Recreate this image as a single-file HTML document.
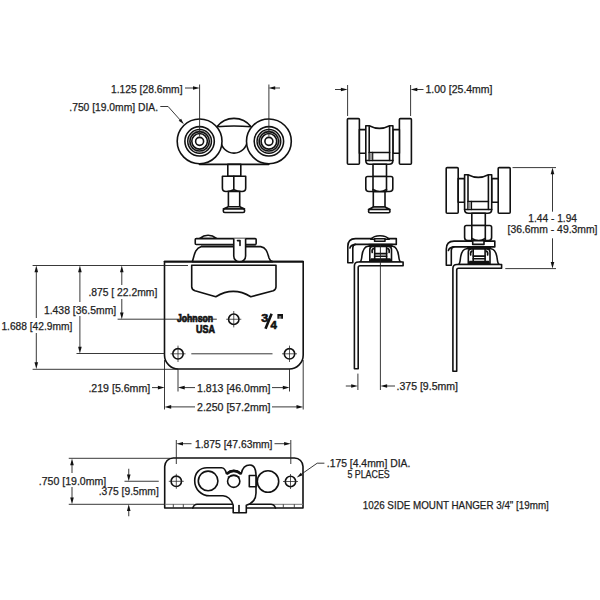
<!DOCTYPE html>
<html><head><meta charset="utf-8">
<style>
html,body{margin:0;padding:0;background:#fff;width:600px;height:600px;overflow:hidden}
svg{display:block}
text{font-family:"Liberation Sans",sans-serif;font-size:10.4px;fill:#1e1e1e;stroke:#1e1e1e;stroke-width:0.25}
.o{fill:none;stroke:#111;stroke-width:1.6;stroke-linejoin:round;stroke-linecap:round}
.w{fill:#fff;stroke:#111;stroke-width:1.6;stroke-linejoin:round}
.d{fill:none;stroke:#222;stroke-width:0.9}
.a{fill:#111;stroke:none}
.x{fill:none;stroke:#222;stroke-width:0.75}
</style></head>
<body>
<svg width="600" height="600" viewBox="0 0 600 600">
<!-- ===== VIEW 1: front rollers ===== -->
<g id="v1">
  <path class="w" d="M216.9,126.8 A21.6,21.6 0 0 1 251.1,126.8 Q234,125.3 216.9,126.8 Z"/>
  <path class="o" d="M220.7,139.8 A13.3,13.3 0 0 0 247.3,139.8"/>
  <line class="o" x1="199.5" y1="164.4" x2="268.8" y2="164.4"/>
  <g id="wheel">
    <circle class="w" cx="199.6" cy="141.35" r="22.4" stroke-width="1.5"/>
    <circle class="o" cx="199.6" cy="141.35" r="14.7" stroke-width="1.4"/>
    <circle class="o" cx="199.6" cy="141.35" r="11.8" stroke-width="1.1"/>
    <circle fill="none" stroke="#999" stroke-width="1" cx="199.6" cy="141.35" r="10.75"/>
    <circle class="o" cx="199.6" cy="141.35" r="9.7" stroke-width="1.1"/>
    <circle class="o" cx="199.6" cy="141.35" r="7.8" stroke-width="2.1"/>
    <circle class="o" cx="199.6" cy="141.35" r="4.0" stroke-width="1.4"/>
  </g>
  <g transform="translate(69.3,0)">
    <circle class="w" cx="199.6" cy="141.35" r="22.4" stroke-width="1.5"/>
    <circle class="o" cx="199.6" cy="141.35" r="14.7" stroke-width="1.4"/>
    <circle class="o" cx="199.6" cy="141.35" r="11.8" stroke-width="1.1"/>
    <circle fill="none" stroke="#999" stroke-width="1" cx="199.6" cy="141.35" r="10.75"/>
    <circle class="o" cx="199.6" cy="141.35" r="9.7" stroke-width="1.1"/>
    <circle class="o" cx="199.6" cy="141.35" r="7.8" stroke-width="2.1"/>
    <circle class="o" cx="199.6" cy="141.35" r="4.0" stroke-width="1.4"/>
  </g>
  <rect class="w" x="227.8" y="164.4" width="13" height="11.9"/>
  <path class="w" d="M222.4,176.3 H245.7 V188 Q245.7,191.5 242,191.5 Q237,191.5 233.8,189.8 Q230.6,191.5 226,191.5 Q222.4,191.5 222.4,188 Z"/>
  <line class="o" x1="233.8" y1="176.3" x2="233.8" y2="190"/>
  <rect class="w" x="228.4" y="191.5" width="11.3" height="15.2"/>
  <path class="w" d="M228.4,206.7 H239.7 L244.6,209 H223.3 Z"/>
  <rect class="w" x="223.3" y="209" width="21.3" height="3.5" rx="1.5"/>
  <!-- dims -->
  <line class="d" x1="199.6" y1="84.5" x2="199.6" y2="136.5"/>
  <line class="d" x1="268.9" y1="84.5" x2="268.9" y2="136.5"/>
  <line class="d" x1="185" y1="88" x2="194" y2="88"/>
  <path class="a" d="M199.7,88 L193,86.2 V89.8 Z"/>
  <line class="d" x1="280" y1="88" x2="274" y2="88"/>
  <path class="a" d="M268.5,88 L275.2,86.2 V89.8 Z"/>
  <text x="111" y="92.7" textLength="71.5" lengthAdjust="spacingAndGlyphs">1.125 [28.6mm]</text>
  <text x="69.3" y="111.2" textLength="88.7" lengthAdjust="spacingAndGlyphs">.750 [19.0mm] DIA.</text>
  <path class="d" d="M160.3,106.5 H168.1 L180.5,120.4"/>
  <path class="a" d="M183.9,124.2 L178.7,120.8 L181.1,118.66 Z"/>
</g>

<!-- ===== VIEW 2: side ===== -->
<g id="asm">
  <rect class="w" x="347.4" y="118.6" width="12" height="45.6" rx="1"/>
  <rect class="w" x="399.4" y="118.6" width="12" height="45.6" rx="1"/>
  <rect class="w" x="359.4" y="129.6" width="6.4" height="23.7"/>
  <rect class="w" x="392.9" y="129.6" width="6.5" height="23.7"/>
  <path class="w" d="M365.8,125.8 H369.2 Q379.5,131 389.6,125.8 H392.9 V160.5 Q392.9,164.2 389,164.2 H369.7 Q365.8,164.2 365.8,160.5 Z"/>
  <line class="o" x1="369.2" y1="126.5" x2="369.2" y2="160.5"/>
  <line class="o" x1="389.6" y1="126.5" x2="389.6" y2="160.5"/>
  <line class="o" x1="369.2" y1="152.5" x2="389.6" y2="152.5"/>
  <line class="o" x1="365.8" y1="160.5" x2="392.9" y2="160.5"/>
  <line class="o" x1="372.5" y1="152.5" x2="372.5" y2="160.5" stroke-width="1"/>
  <rect x="369.6" y="153.2" width="2.6" height="6.8" fill="#999"/>
  <rect class="w" x="373" y="164.2" width="13.5" height="12.3"/>
  <path class="w" d="M365.8,178.3 Q365.8,176.5 367.6,176.5 H391 Q392.8,176.5 392.8,178.3 V188.5 Q392.8,191.5 389.5,191.5 H386.5 Q380,193 373,191.5 H369 Q365.8,191.5 365.8,188.5 Z"/>
  <line class="o" x1="373" y1="176.5" x2="373" y2="191.5"/>
  <line class="o" x1="386.5" y1="176.5" x2="386.5" y2="191.5"/>
  <path class="o" d="M373,189.5 Q380,193.5 386.5,189.5"/>
  <rect class="w" x="373.3" y="191.8" width="11.7" height="15.2"/>
</g>
<path class="w" d="M373.3,207 H385 L390,209.5 H368.5 Z"/>
<rect class="w" x="368.5" y="209.5" width="21.5" height="3.3" rx="1.5"/>
<g id="brk">
  <path class="w" d="M396.3,244.4 H355.5 Q352.8,244.6 352.8,248 V262.7 H347.8 V246.5 Q347.8,238.6 355.5,238.6 H396.3 Z"/>
  <path class="o" d="M355.5,244.4 Q350.8,244.8 349.9,248" stroke-width="1.3"/>
  <path class="w" d="M359.8,262 Q361.3,261.5 361.8,257 C362.5,250 364,246.5 368,246.2 H392.5 C396.5,246.5 398,250 398.8,257 Q399.3,261.5 401,262 Z"/>
  <rect x="368.6" y="243.8" width="24" height="2.6" fill="#111"/>
  <path class="w" d="M369.8,262 V249.5 Q369.8,246.4 373,246.4 H388.3 Q391.5,246.4 391.5,249.5 V262" stroke-width="1.9"/>
  <line class="o" x1="374.7" y1="246.4" x2="374.7" y2="262" stroke-width="1.5"/>
  <line class="o" x1="386.6" y1="246.4" x2="386.6" y2="262" stroke-width="1.5"/>
  <line class="o" x1="374.7" y1="253.6" x2="386.6" y2="253.6" stroke-width="1.1"/>
  <line class="o" x1="374.7" y1="256.3" x2="386.6" y2="256.3" stroke-width="1.1"/>
  <path d="M371,258.3 H390.3 Q391.5,259.5 391.5,262 H369.8 Q369.8,259.5 371,258.3 Z" fill="#111"/>
  <path class="o" d="M372.2,252.5 Q371.5,249.5 373.5,248.5" stroke-width="1.1"/>
  <path class="o" d="M389.1,252.5 Q389.8,249.5 387.8,248.5" stroke-width="1.1"/>
  <path class="w" d="M354.4,368.8 V266 Q354.4,262 358.4,262 H403.1 V265.75 H360 Q358.2,265.75 358.2,267.5 V368.8 Z"/>
</g>
<path class="w" d="M370.8,239.2 C373,236.5 376,235.7 380,235.7 C384,235.7 387,236.5 389.2,239.2 Z" stroke-width="1.3"/>
<rect class="w" x="374.6" y="238.8" width="10.4" height="2.5" stroke-width="1.3"/>
<line class="d" x1="380.4" y1="244.5" x2="380.4" y2="390"/>
<line class="d" x1="347.6" y1="85" x2="347.6" y2="116"/>
<line class="d" x1="410.6" y1="85" x2="410.6" y2="116"/>
<line class="d" x1="335" y1="89.5" x2="342" y2="89.5"/>
<path class="a" d="M347.6,89.5 L340.9,87.7 V91.3 Z"/>
<line class="d" x1="423.5" y1="89.5" x2="416" y2="89.5"/>
<path class="a" d="M410.6,89.5 L417.3,87.7 V91.3 Z"/>
<text x="425.5" y="92.9" textLength="67" lengthAdjust="spacingAndGlyphs">1.00 [25.4mm]</text>
<line class="d" x1="357.9" y1="373.6" x2="357.9" y2="390"/>
<line class="d" x1="345.8" y1="386" x2="352" y2="386"/>
<path class="a" d="M357.9,386 L351.2,384.2 V387.8 Z"/>
<line class="d" x1="395" y1="386" x2="386" y2="386"/>
<path class="a" d="M380.4,386 L387.1,384.2 V387.8 Z"/>
<text x="396.5" y="390.1" textLength="61.5" lengthAdjust="spacingAndGlyphs">.375 [9.5mm]</text>
<!-- ===== VIEW 3 ===== -->
<g transform="translate(98.8,49)">
  <rect class="w" x="347.4" y="118.6" width="12" height="45.6" rx="1"/>
  <rect class="w" x="399.4" y="118.6" width="12" height="45.6" rx="1"/>
  <rect class="w" x="359.4" y="129.6" width="6.4" height="23.7"/>
  <rect class="w" x="392.9" y="129.6" width="6.5" height="23.7"/>
  <path class="w" d="M365.8,125.8 H369.2 Q379.5,131 389.6,125.8 H392.9 V160.5 Q392.9,164.2 389,164.2 H369.7 Q365.8,164.2 365.8,160.5 Z"/>
  <line class="o" x1="369.2" y1="126.5" x2="369.2" y2="160.5"/>
  <line class="o" x1="389.6" y1="126.5" x2="389.6" y2="160.5"/>
  <line class="o" x1="369.2" y1="152.5" x2="389.6" y2="152.5"/>
  <line class="o" x1="365.8" y1="160.5" x2="392.9" y2="160.5"/>
  <line class="o" x1="372.5" y1="152.5" x2="372.5" y2="160.5" stroke-width="1"/>
  <rect x="369.6" y="153.2" width="2.6" height="6.8" fill="#999"/>
  <rect class="w" x="373" y="164.2" width="13.5" height="12.3"/>
  <path class="w" d="M365.8,178.3 Q365.8,176.5 367.6,176.5 H391 Q392.8,176.5 392.8,178.3 V188.5 Q392.8,191.5 389.5,191.5 H386.5 Q380,193 373,191.5 H369 Q365.8,191.5 365.8,188.5 Z"/>
  <line class="o" x1="373" y1="176.5" x2="373" y2="191.5"/>
  <line class="o" x1="386.5" y1="176.5" x2="386.5" y2="191.5"/>
  <path class="o" d="M373,189.5 Q380,193.5 386.5,189.5"/>
  <rect class="w" x="373.3" y="191.8" width="11.7" height="15.2"/>
</g>
<g transform="translate(98.5,2.5)">
  <path class="w" d="M396.3,244.4 H355.5 Q352.8,244.6 352.8,248 V262.7 H347.8 V246.5 Q347.8,238.6 355.5,238.6 H396.3 Z"/>
  <path class="o" d="M355.5,244.4 Q350.8,244.8 349.9,248" stroke-width="1.3"/>
  <path class="w" d="M359.8,262 Q361.3,261.5 361.8,257 C362.5,250 364,246.5 368,246.2 H392.5 C396.5,246.5 398,250 398.8,257 Q399.3,261.5 401,262 Z"/>
  <rect x="368.6" y="243.8" width="24" height="2.6" fill="#111"/>
  <path class="w" d="M369.8,262 V249.5 Q369.8,246.4 373,246.4 H388.3 Q391.5,246.4 391.5,249.5 V262" stroke-width="1.9"/>
  <line class="o" x1="374.7" y1="246.4" x2="374.7" y2="262" stroke-width="1.5"/>
  <line class="o" x1="386.6" y1="246.4" x2="386.6" y2="262" stroke-width="1.5"/>
  <line class="o" x1="374.7" y1="253.6" x2="386.6" y2="253.6" stroke-width="1.1"/>
  <line class="o" x1="374.7" y1="256.3" x2="386.6" y2="256.3" stroke-width="1.1"/>
  <path d="M371,258.3 H390.3 Q391.5,259.5 391.5,262 H369.8 Q369.8,259.5 371,258.3 Z" fill="#111"/>
  <path class="o" d="M372.2,252.5 Q371.5,249.5 373.5,248.5" stroke-width="1.1"/>
  <path class="o" d="M389.1,252.5 Q389.8,249.5 387.8,248.5" stroke-width="1.1"/>
  <path class="w" d="M354.4,368.8 V266 Q354.4,262 358.4,262 H403.1 V265.75 H360 Q358.2,265.75 358.2,267.5 V368.8 Z"/>
</g>
<rect class="w" x="472.7" y="240.8" width="11.3" height="3.6" stroke-width="1.4"/>
<line class="d" x1="512.5" y1="167.6" x2="556" y2="167.6"/>
<line class="d" x1="505.3" y1="268.6" x2="556" y2="268.6"/>
<line class="d" x1="552.5" y1="174" x2="552.5" y2="211.7"/>
<line class="d" x1="552.5" y1="238.3" x2="552.5" y2="262"/>
<path class="a" d="M552.5,167.6 L550.7,174.3 H554.3 Z"/>
<path class="a" d="M552.5,268.6 L550.7,261.9 H554.3 Z"/>
<text x="528.3" y="221.7" textLength="48.7" lengthAdjust="spacingAndGlyphs">1.44 - 1.94</text>
<text x="507.5" y="232.5" textLength="90" lengthAdjust="spacingAndGlyphs">[36.6mm - 49.3mm]</text>

<!-- ===== VIEW 4: plate ===== -->
<g id="v4">
  <path class="w" d="M164.5,261.6 H303.2 V355 A14,14 0 0 1 289.2,369 H178.5 A14,14 0 0 1 164.5,355 Z"/>
  <path class="w" d="M192.3,261.6 C194.5,256 194,249 201.5,246.6 H260.7 C266.5,247.5 267.5,253 269,258 Q270,261 272.5,261.6 Z"/>
  <path class="w" d="M199.4,238.6 Q208,232 216.9,238.6 Z"/>
  <rect class="w" x="195.25" y="238.6" width="60.9" height="5.9" rx="1"/>
  <path d="M201,244.4 H233.7 V245.6 H201 Z" fill="#222"/>
  <path d="M246,244.4 H256 V245.6 H246 Z" fill="#222"/>
  <path class="w" d="M233.75,238.6 V255.9 A5.92,5.92 0 0 0 245.6,255.9 V238.6"/>
  <path class="o" d="M237.5,240.6 H240 V245.5" stroke-width="0.9"/>
  <line class="o" x1="164.4" y1="261.6" x2="303" y2="261.6"/>
  <path class="w" d="M191.7,265.3 H276 V286.7 Q276,289.5 273.3,290.8 L250.8,296.7 Q233.3,286 215.8,296.7 L195,290.8 Q191.7,289.5 191.7,286.7 Z"/>
  <circle class="o" cx="233.75" cy="319.25" r="5.2" stroke-width="1.1"/>
  <line class="x" x1="226.2" y1="319.25" x2="241.3" y2="319.25"/>
  <line class="x" x1="233.75" y1="311" x2="233.75" y2="327.4"/>
  <circle class="o" cx="178" cy="353.8" r="5.2" stroke-width="1.1"/>
  <line class="x" x1="170.5" y1="353.8" x2="185.5" y2="353.8"/>
  <line class="x" x1="178" y1="345.6" x2="178" y2="362"/>
  <circle class="o" cx="289.5" cy="353.8" r="5.2" stroke-width="1.1"/>
  <line class="x" x1="282" y1="353.8" x2="297" y2="353.8"/>
  <line class="x" x1="289.5" y1="345.6" x2="289.5" y2="362"/>
  <line class="d" x1="191.3" y1="353.8" x2="272.5" y2="353.8"/>
  <text x="176.9" y="322" textLength="36.2" lengthAdjust="spacingAndGlyphs" style="font-weight:bold;font-size:10.7px;fill:#111;stroke:#111;stroke-width:0.7">Johnson</text>
  <text x="196.1" y="332.5" textLength="18.9" lengthAdjust="spacingAndGlyphs" style="font-weight:bold;font-size:10.7px;fill:#111;stroke:#111;stroke-width:0.7">USA</text>
  <text x="261.2" y="322.2" textLength="7" lengthAdjust="spacingAndGlyphs" style="font-weight:bold;font-size:11.5px;fill:#111;stroke:#111;stroke-width:0.6">3</text>
  <line x1="265.5" y1="328.8" x2="271.6" y2="313.8" stroke="#111" stroke-width="2.6"/>
  <text x="270.5" y="329" textLength="6.4" lengthAdjust="spacingAndGlyphs" style="font-weight:bold;font-size:11.5px;fill:#111;stroke:#111;stroke-width:0.6">4</text>
  <path d="M277.4,313.9 h5.6 v4.9 h-1.9 v-2.9 h-0.5 v2.9 h-1.2 v-2.9 h-0.5 v2.9 h-1.5 Z" fill="#111"/>
</g>
<!-- left dims -->
<line class="d" x1="32.6" y1="265.5" x2="188" y2="265.5"/>
<line class="d" x1="32.6" y1="369.3" x2="178" y2="369.3"/>
<line class="d" x1="76.5" y1="353.5" x2="164.5" y2="353.5"/>
<line class="d" x1="117.6" y1="319.2" x2="216.8" y2="319.2"/>
<line class="d" x1="36.3" y1="271" x2="36.3" y2="318"/>
<line class="d" x1="36.3" y1="333" x2="36.3" y2="363"/>
<path class="a" d="M36.3,265.5 L34.5,272.2 H38.1 Z"/>
<path class="a" d="M36.3,369 L34.5,362.3 H38.1 Z"/>
<text x="1.4" y="330.2" textLength="70.9" lengthAdjust="spacingAndGlyphs">1.688 [42.9mm]</text>
<line class="d" x1="79.9" y1="271" x2="79.9" y2="302"/>
<line class="d" x1="79.9" y1="316" x2="79.9" y2="348"/>
<path class="a" d="M79.9,265.5 L78.1,272.2 H81.7 Z"/>
<path class="a" d="M79.9,353.4 L78.1,346.7 H81.7 Z"/>
<text x="43.9" y="313.6" textLength="72.3" lengthAdjust="spacingAndGlyphs">1.438 [36.5mm]</text>
<line class="d" x1="121.8" y1="271" x2="121.8" y2="285"/>
<line class="d" x1="121.8" y1="299" x2="121.8" y2="313"/>
<path class="a" d="M121.8,265.5 L120,272.2 H123.6 Z"/>
<path class="a" d="M121.8,319.2 L120,312.5 H123.6 Z"/>
<text x="88.4" y="295.9" textLength="68.9" lengthAdjust="spacingAndGlyphs">.875 [ 22.2mm]</text>
<!-- bottom dims -->
<line class="d" x1="164.5" y1="360" x2="164.5" y2="409.5"/>
<line class="d" x1="303.2" y1="360" x2="303.2" y2="409.5"/>
<line class="d" x1="178" y1="369" x2="178" y2="391.5"/>
<line class="d" x1="289.5" y1="369" x2="289.5" y2="391.5"/>
<line class="d" x1="184" y1="387.6" x2="195" y2="387.6"/>
<line class="d" x1="272" y1="387.6" x2="283.5" y2="387.6"/>
<path class="a" d="M178,387.6 L184.7,385.8 V389.4 Z"/>
<path class="a" d="M289.5,387.6 L282.8,385.8 V389.4 Z"/>
<text x="197" y="392.2" textLength="73.5" lengthAdjust="spacingAndGlyphs">1.813 [46.0mm]</text>
<line class="d" x1="152" y1="387.6" x2="158.5" y2="387.6"/>
<path class="a" d="M164.6,387.6 L157.9,385.8 V389.4 Z"/>
<text x="88.4" y="392.2" textLength="61.8" lengthAdjust="spacingAndGlyphs">.219 [5.6mm]</text>
<line class="d" x1="170.5" y1="406.9" x2="195" y2="406.9"/>
<line class="d" x1="272" y1="406.9" x2="297" y2="406.9"/>
<path class="a" d="M164.5,406.9 L171.2,405.1 V408.7 Z"/>
<path class="a" d="M303.2,406.9 L296.5,405.1 V408.7 Z"/>
<text x="197" y="411" textLength="73.5" lengthAdjust="spacingAndGlyphs">2.250 [57.2mm]</text>
<!-- ===== VIEW 5: bottom ===== -->
<g id="v5">
  <path class="w" d="M164.7,508 V466.5 A8.5,8.5 0 0 1 173.2,458 H294.5 A8.5,8.5 0 0 1 303,466.5 V508 Z"/>
  <line x1="164.7" y1="504.3" x2="194" y2="504.3" stroke="#777" stroke-width="1"/><line x1="173.3" y1="504.3" x2="173.3" y2="508" stroke="#333" stroke-width="0.9"/><line x1="183.3" y1="504.3" x2="183.3" y2="508" stroke="#333" stroke-width="0.9"/>
  <line x1="273" y1="504.3" x2="303" y2="504.3" stroke="#777" stroke-width="1"/><line x1="283.3" y1="504.3" x2="283.3" y2="508" stroke="#333" stroke-width="0.9"/><line x1="294.3" y1="504.3" x2="294.3" y2="508" stroke="#333" stroke-width="0.9"/>
  <path class="o" d="M192.8,508 Q194,504.3 197,504.3 H271 Q274,504.3 275.5,508" stroke-width="1.4"/>
  <path class="w" d="M194.7,480.7 C194.7,473 199.5,467.8 207,467.8 H221.5 C224.5,467.8 225.8,471 226.4,473.7 Q233.7,467.6 241.3,473.7 C242.2,468.5 245,465 250,465 C254.5,465 256,469.5 256,476 V493 C256,499.5 252,503.5 246.3,505.2 V512.75 H233.2 V505.2 C231,499 228,496 223,495.8 H209.8 C201,495.8 194.7,489 194.7,480.7 Z"/>
  <circle class="o" cx="208.1" cy="480.9" r="9.8" stroke-width="1.5"/>
  <circle class="w" cx="233.7" cy="481.2" r="6.15"/>
  <path fill="none" stroke="#111" stroke-width="2.6" d="M226.6,474 Q233.7,467.8 241.1,474"/>
  <path fill="none" stroke="#111" stroke-width="1.3" d="M227.8,477.2 Q233.7,474 239.6,477.2"/>
  <line class="o" x1="239" y1="505.5" x2="239" y2="512.5" stroke-width="0.9"/>
  <circle class="w" cx="268" cy="481.5" r="10.7"/>
  <rect class="w" x="249.3" y="475.5" width="6.7" height="11.2"/>
  <circle class="o" cx="176.3" cy="481.3" r="5.2" stroke-width="1.1"/>
  <line class="x" x1="168.8" y1="481.3" x2="183.8" y2="481.3"/>
  <line class="x" x1="176.3" y1="473.8" x2="176.3" y2="488.8"/>
  <circle class="o" cx="290.5" cy="481.5" r="5.2" stroke-width="1.1"/>
  <line class="x" x1="283" y1="481.5" x2="298" y2="481.5"/>
  <line class="x" x1="290.5" y1="474" x2="290.5" y2="489"/>
</g>
<line class="d" x1="176.3" y1="440" x2="176.3" y2="464"/>
<line class="d" x1="290.8" y1="440" x2="290.8" y2="464"/>
<line class="d" x1="182" y1="443.7" x2="191.5" y2="443.7"/>
<line class="d" x1="274.5" y1="443.7" x2="285" y2="443.7"/>
<path class="a" d="M176.3,443.7 L183,441.9 V445.5 Z"/>
<path class="a" d="M290.8,443.7 L284.1,441.9 V445.5 Z"/>
<text x="195" y="448.3" textLength="77.5" lengthAdjust="spacingAndGlyphs">1.875 [47.63mm]</text>
<line class="d" x1="68.75" y1="458.3" x2="170" y2="458.3"/>
<line class="d" x1="68.75" y1="504.3" x2="164.7" y2="504.3"/>
<line class="d" x1="124.5" y1="481.25" x2="158.75" y2="481.25"/>
<line class="d" x1="72" y1="464" x2="72" y2="473"/>
<line class="d" x1="72" y1="487" x2="72" y2="499"/>
<path class="a" d="M72,458.5 L70.2,465.2 H73.8 Z"/>
<path class="a" d="M72,504.3 L70.2,497.6 H73.8 Z"/>
<text x="38.75" y="484.5" textLength="67.5" lengthAdjust="spacingAndGlyphs">.750 [19.0mm]</text>
<line class="d" x1="128.75" y1="468.75" x2="128.75" y2="475"/>
<path class="a" d="M128.75,481.25 L126.95,474.55 H130.55 Z"/>
<line class="d" x1="128.75" y1="516.25" x2="128.75" y2="510"/>
<path class="a" d="M128.75,504.3 L126.95,511 H130.55 Z"/>
<text x="98.75" y="494.5" textLength="60" lengthAdjust="spacingAndGlyphs">.375 [9.5mm]</text>
<path class="d" d="M324.4,463.2 H317.2 L301.5,474.1"/>
<path class="a" d="M296.8,477.4 L300.8,472.66 L302.64,475.28 Z"/>
<text x="326.8" y="467.3" textLength="83.5" lengthAdjust="spacingAndGlyphs">.175 [4.4mm] DIA.</text>
<text x="347.4" y="478.2" textLength="42.3" lengthAdjust="spacingAndGlyphs">5 PLACES</text>
<text x="362.8" y="509.3" textLength="186" lengthAdjust="spacingAndGlyphs">1026 SIDE MOUNT HANGER 3/4" [19mm]</text>
</svg>
</body></html>
